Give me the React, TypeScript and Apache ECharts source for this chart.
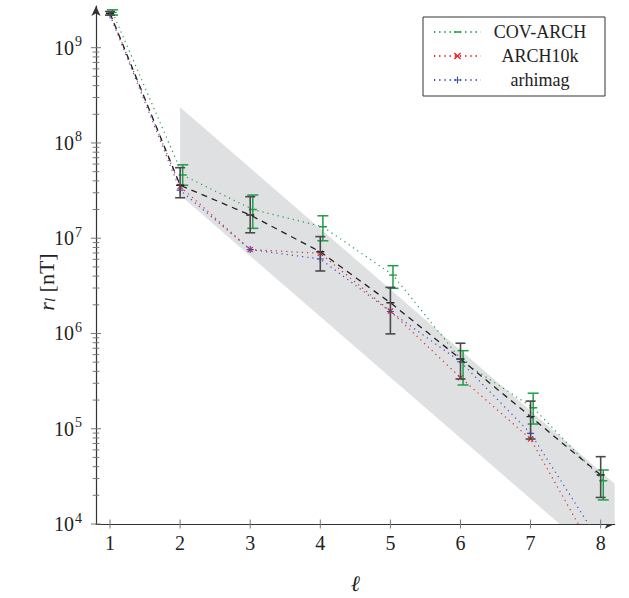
import { useEffect, useRef } from 'react';
import * as echarts from 'echarts';

// Spherical harmonic degree and the per-degree amplitude r_l [nT] of each model
const degrees = [1, 2, 3, 4, 5, 6, 7, 8];

const covArch = [2.35e9, 4.6e7, 2.0e7, 1.32e7, 4.1e6, 5.0e5, 1.66e5, 2.85e4];
const covArchLow = [2.2e9, 3.6e7, 1.27e7, 9.4e6, 2.98e6, 2.88e5, 1.12e5, 1.79e4];
const covArchHigh = [2.5e9, 5.9e7, 2.84e7, 1.72e7, 5.15e6, 6.6e5, 2.36e5, 3.69e4];

const arch10k = [2.3e9, 3.5e7, 7.6e6, 6.95e6, 1.72e6, 3.44e5, 7.8e4, 3.8e3];
const arhimag = [2.2e9, 3.2e7, 7.6e6, 6.05e6, 1.7e6, 5.05e5, 8.95e4, 6.3e3];

// Ensemble mean with its spread
const ensembleMean = [2.3e9, 3.6e7, 1.75e7, 7.2e6, 2.1e6, 5.4e5, 1.34e5, 3.27e4];
const ensembleLow = [2.2e9, 2.66e7, 1.14e7, 4.53e6, 9.9e5, 3.33e5, 7.8e4, 1.9e4];
const ensembleHigh = [2.4e9, 5.5e7, 2.73e7, 1.04e7, 3.05e6, 7.9e5, 1.95e5, 5.09e4];

// Prior range (shaded band)
const bandDegrees = [2, 8.2];
const bandUpper = [2.37e8, 2.65e4];
const bandLower = [2.82e7, 3.16e3];

// COV-ARCH points are drawn slightly right of the integer degree
const covShift = 0.037;

const X_MIN = 0.8;
const X_MAX = 8.2;
const Y_MIN = 1e4;
const Y_MAX = 2.74e9;

const SERIF = '"Liberation Serif", "DejaVu Serif", serif';
const GREEN = '#1f9e48';
const RED = '#e3262b';
const BLUE = '#3a4bbf';
const BLACK = '#222';

// horizontal bar marker; the two specks keep its bounding box square so it stays a bar in the legend too
const SYM_DASH = 'path://M0,4.1H10V5.9H0Z M5,0L5.01,0L5,0.01Z M5,10L5.01,10L5,9.99Z';
const SYM_CROSS = 'path://M0,1.4L1.4,0L5,3.6L8.6,0L10,1.4L6.4,5L10,8.6L8.6,10L5,6.4L1.4,10L0,8.6L3.6,5Z';
const SYM_PLUS = 'path://M4.2,0H5.8V4.2H10V5.8H5.8V10H4.2V5.8H0V4.2H4.2Z';

// Log axis ticks: decades (major) and 2..9 multiples (minor)
const yTicks: number[][] = [];
for (let k = 4; k <= 9; k++) {
  yTicks.push([Math.pow(10, k), 1]);
  if (k < 9) for (let m = 2; m <= 9; m++) yTicks.push([m * Math.pow(10, k), 0]);
}

function errorBars(color: string, capHalf: number, width: number) {
  return (_params: any, api: any) => {
    const x = api.value(0);
    const lo = api.coord([x, api.value(1)]);
    const hi = api.coord([x, api.value(2)]);
    const style = { stroke: color, lineWidth: width };
    return {
      type: 'group',
      children: [
        { type: 'line', shape: { x1: lo[0], y1: lo[1], x2: hi[0], y2: hi[1] }, style },
        { type: 'line', shape: { x1: lo[0] - capHalf, y1: lo[1], x2: lo[0] + capHalf, y2: lo[1] }, style },
        { type: 'line', shape: { x1: hi[0] - capHalf, y1: hi[1], x2: hi[0] + capHalf, y2: hi[1] }, style },
      ],
    };
  };
}

export default function App() {
  const ref = useRef<HTMLDivElement>(null);

  useEffect(() => {
    if (!ref.current) return;
    const chart = echarts.init(ref.current, undefined, { renderer: 'svg' });

    const option: any = {
      animation: false,
      backgroundColor: '#fff',
      grid: { left: 96, right: 14.3, top: 6, bottom: 74, containLabel: false, outerBoundsMode: 'none' },
      legend: {
        data: ['COV-ARCH', 'ARCH10k', 'arhimag'],
        orient: 'vertical',
        left: 423,
        top: 17,
        itemWidth: 47,
        itemHeight: 9,
        itemGap: 6,
        padding: [6, 11, 7, 10],
        borderColor: '#333',
        borderWidth: 1,
        borderRadius: 0,
        backgroundColor: '#fff',
        formatter: (name: string) => `{c|${name}}`,
        textStyle: {
          rich: {
            c: { width: 108, align: 'center', fontSize: 18, lineHeight: 20, fontFamily: SERIF, color: BLACK },
          },
        },
      },
      xAxis: {
        type: 'value',
        min: X_MIN,
        max: X_MAX,
        axisLine: {
          show: true,
          onZero: false,
          symbol: ['none', 'arrow'],
          symbolSize: [7, 10],
          lineStyle: { color: '#333', width: 1.2 },
        },
        axisTick: { show: false },
        splitLine: { show: false },
        axisLabel: {
          customValues: degrees,
          fontSize: 20,
          fontFamily: SERIF,
          color: BLACK,
          margin: 9,
        },
        name: 'ℓ',
        nameLocation: 'middle',
        nameGap: 48,
        nameTextStyle: { fontSize: 22, fontFamily: SERIF, fontStyle: 'italic', color: BLACK },
      },
      yAxis: {
        type: 'log',
        logBase: 10,
        min: Y_MIN,
        max: Y_MAX,
        axisLine: {
          show: true,
          onZero: false,
          symbol: ['none', 'arrow'],
          symbolSize: [7, 10],
          lineStyle: { color: '#333', width: 1.2 },
        },
        axisTick: { show: false },
        minorTick: { show: false },
        splitLine: { show: false },
        axisLabel: {
          margin: 14,
          formatter: (v: number) => {
            const e = Math.log10(v);
            const r = Math.round(e);
            if (Math.abs(e - r) > 1e-6) return '';
            return `{b|10}{e|${r}}`;
          },
          rich: {
            b: { fontSize: 20, fontFamily: SERIF, color: BLACK },
            e: { fontSize: 14, fontFamily: SERIF, color: BLACK, padding: [0, 0, 12, 1] },
          },
        },
      },
      graphic: [
        {
          type: 'text',
          x: 46,
          y: 282,
          rotation: Math.PI / 2,
          style: {
            text: '{i|r}{s|l}{n| [nT]}',
            align: 'center',
            verticalAlign: 'middle',
            rich: {
              i: { fontSize: 22, fontFamily: SERIF, fontStyle: 'italic', fill: BLACK },
              s: { fontSize: 15, fontFamily: SERIF, fontStyle: 'italic', fill: BLACK, padding: [8, 0, 0, 0] },
              n: { fontSize: 22, fontFamily: SERIF, fill: BLACK },
            },
          },
        },
      ],
      series: [
        {
          name: 'prior',
          type: 'custom',
          clip: true,
          silent: true,
          z: 1,
          data: bandDegrees.map((d, i) => [d, bandLower[i], bandUpper[i]]),
          encode: { x: 0, y: [1, 2] },
          renderItem: (params: any, api: any) => {
            if (params.dataIndex !== 0) return null;
            const pts = [
              api.coord([bandDegrees[0], bandUpper[0]]),
              api.coord([bandDegrees[1], bandUpper[1]]),
              api.coord([bandDegrees[1], bandLower[1]]),
              api.coord([bandDegrees[0], bandLower[0]]),
            ];
            return { type: 'polygon', shape: { points: pts }, style: { fill: '#dfe0e2' } };
          },
        },
        {
          name: 'y-ticks',
          type: 'custom',
          clip: false,
          silent: true,
          z: 6,
          data: yTicks,
          renderItem: (_p: any, api: any) => {
            const p = api.coord([X_MIN, api.value(0)]);
            const h = api.value(1) ? 5 : 3.3;
            return {
              type: 'line',
              shape: { x1: p[0] - h, y1: p[1], x2: p[0] + h, y2: p[1] },
              style: { stroke: '#777', lineWidth: 1 },
            };
          },
        },
        {
          name: 'x-ticks',
          type: 'custom',
          clip: false,
          silent: true,
          z: 6,
          data: degrees.map((d) => [d, Y_MIN]),
          renderItem: (_p: any, api: any) => {
            const p = api.coord([api.value(0), Y_MIN]);
            return {
              type: 'line',
              shape: { x1: p[0], y1: p[1] - 4.5, x2: p[0], y2: p[1] + 4.5 },
              style: { stroke: '#777', lineWidth: 1 },
            };
          },
        },
        {
          name: 'COV-ARCH',
          type: 'line',
          z: 3,
          data: degrees.map((d, i) => [d + covShift, covArch[i]]),
          symbol: SYM_DASH,
          symbolSize: 8,
          lineStyle: { color: GREEN, width: 1.2, type: [1.2, 4] },
          itemStyle: { color: GREEN },
        },
        {
          name: 'ARCH10k',
          type: 'line',
          z: 3,
          data: degrees.map((d, i) => [d, arch10k[i]]),
          symbol: SYM_CROSS,
          symbolSize: 6,
          lineStyle: { color: RED, width: 1.2, type: [1.2, 4] },
          itemStyle: { color: RED },
        },
        {
          name: 'arhimag',
          type: 'line',
          z: 3,
          data: degrees.map((d, i) => [d, arhimag[i]]),
          symbol: SYM_PLUS,
          symbolSize: 7,
          lineStyle: { color: BLUE, width: 1.2, type: [1.2, 4] },
          itemStyle: { color: BLUE },
        },
        {
          name: 'ensemble',
          type: 'line',
          z: 4,
          data: degrees.map((d, i) => [d, ensembleMean[i]]),
          symbol: SYM_DASH,
          symbolSize: 8,
          lineStyle: { color: BLACK, width: 1.3, type: [6, 5] },
          itemStyle: { color: BLACK },
        },
        {
          name: 'COV-ARCH range',
          type: 'custom',
          z: 4,
          data: degrees.map((d, i) => [d + covShift, covArchLow[i], covArchHigh[i]]),
          encode: { x: 0, y: [1, 2] },
          renderItem: errorBars(GREEN, 5.5, 1.5),
        },
        {
          name: 'ensemble range',
          type: 'custom',
          z: 5,
          data: degrees.map((d, i) => [d, ensembleLow[i], ensembleHigh[i]]),
          encode: { x: 0, y: [1, 2] },
          renderItem: errorBars('#4a4a4a', 5, 1.6),
        },
      ],
    };

    chart.setOption(option);
    return () => chart.dispose();
  }, []);

  return (
    <div
      ref={ref}
      style={{ position: 'absolute', left: 0, top: 0, width: 629, height: 598 }}
    />
  );
}
